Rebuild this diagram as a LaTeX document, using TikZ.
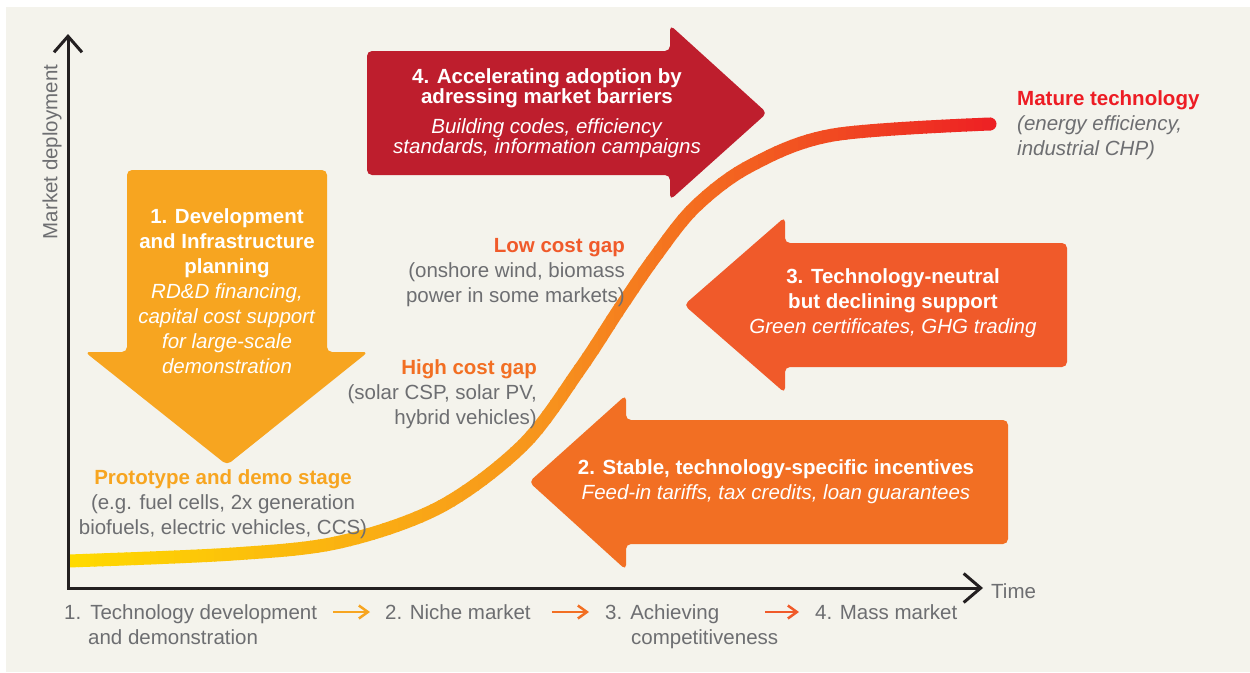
\documentclass[tikz,border=0pt]{standalone}
\usepackage{fontspec}
\setmainfont{Liberation Sans}
\usepackage{xcolor}
\usepackage{tikz}
\usetikzlibrary{arrows.meta, positioning}

\definecolor{panelbg}{HTML}{F4F3EC}
\definecolor{axisblack}{HTML}{231F20}
\definecolor{textgray}{HTML}{6D6E71}
\definecolor{amber}{HTML}{F7A520}
\definecolor{deepred}{HTML}{BE1E2D}
\definecolor{redorange}{HTML}{F05A2A}
\definecolor{darkorange}{HTML}{F26F23}
\definecolor{maturered}{HTML}{ED1C24}
\definecolor{curveyellow}{HTML}{FFDA00}
\definecolor{curveorange}{HTML}{F7941D}
\definecolor{curvered}{HTML}{ED1C24}

\tikzset{
    axisline/.style={line width=3pt, draw=axisblack, line join=miter, {Straight Barb[length=16pt,width=28pt]}-{Straight Barb[length=17pt,width=29pt]}},
    policyarrow/.style={rounded corners=5pt},
    arrowtext/.style={text=white, align=center, inner sep=0pt, font=\fontsize{20.5}{25}\selectfont},
    gaplabel/.style={text=textgray, inner sep=0pt, font=\fontsize{20.5}{25}\selectfont},
    stagetext/.style={text=textgray, inner sep=0pt, text height=15pt, text depth=0pt, font=\fontsize{20.5}{25}\selectfont},
    stagearrow/.style={line width=2.5pt, -{Straight Barb[length=9pt,width=13pt]}},
    sgrowth/.style={line width=13pt, line cap=round}
}

\begin{document}
\begin{tikzpicture}[x=1pt, y=-1pt]
    \useasboundingbox (0,0) rectangle (1250,672);
    \fill[white] (0,0) rectangle (1250,672);
    \fill[panelbg] (6,7) rectangle (1250,672);

    % axes
    \coordinate (origin) at (68,588);
    \coordinate (ytop) at (68,34);
    \coordinate (xend) at (983,588);
    \draw[axisline] (ytop) -- (origin) -- (xend);
    \node[gaplabel, rotate=90] (ylabel) at (52,152) {Market deployment};
    \node[gaplabel, anchor=west] (xlabel) at (991,591) {Time};

    % policy arrows
    \fill[deepred, policyarrow] (367,51) -- (670,51) -- (670,25) -- (767,113) -- (670,200) -- (670,175) -- (367,175) -- cycle;
    \fill[amber, policyarrow] (127,170) -- (327,170) -- (327,352) -- (368,352) -- (227,465) -- (85,352) -- (127,352) -- cycle;
    \fill[redorange, policyarrow] (1067,243) -- (785,243) -- (785,217) -- (684,305) -- (785,393) -- (785,367) -- (1067,367) -- cycle;
    \fill[darkorange, policyarrow] (1008,420) -- (626,420) -- (626,395) -- (529,482) -- (626,570) -- (626,544) -- (1008,544) -- cycle;

    \node[arrowtext, font=\fontsize{20.5}{20}\selectfont] (barriers) at (547,113) {\textbf{4. Accelerating adoption by}\\\textbf{adressing market barriers}\\[10pt]\textit{Building codes, efficiency}\\\textit{standards, information campaigns}};
    \node[arrowtext] (development) at (227,291) {\textbf{1. Development}\\\textbf{and Infrastructure}\\\textbf{planning}\\\textit{RD\&D financing,}\\\textit{capital cost support}\\\textit{for large-scale}\\\textit{demonstration}};
    \node[arrowtext] (neutral) at (893,303) {\textbf{3. Technology-neutral}\\\textbf{but declining support}\\\textit{Green certificates, GHG trading}};
    \node[arrowtext] (incentives) at (776,482) {\textbf{2. Stable, technology-specific incentives}\\\textit{Feed-in tariffs, tax credits, loan guarantees}};

    % s-curve, coloured strip by strip
    \path[save path=\growthpath] plot[smooth, tension=0.55] coordinates {(68,561) (233,554) (340,542) (440,507) (523,445) (580,369) (620,308) (655,257) (695,207) (750,166) (833,135) (990,124)};
    \foreach \i in {0,...,117} {
        \pgfmathsetmacro\stripx{70+8*\i}
        \pgfmathsetmacro\curvepos{\i/117}
        \ifdim\curvepos pt<0.5pt
            \pgfmathsetmacro\curvemix{200*\curvepos}\colorlet{curvecol}{curveorange!\curvemix!curveyellow}
        \else
            \pgfmathsetmacro\curvemix{200*\curvepos-100}\colorlet{curvecol}{curvered!\curvemix!curveorange}
        \fi
        \begin{scope}
            \clip (\stripx,0) rectangle (\stripx+9,672);
            \draw[sgrowth, curvecol, use path=\growthpath];
        \end{scope}
    }

    % technology labels
    \node[gaplabel, anchor=west, align=left] (mature) at (1017,125.5) {\textcolor{maturered}{\textbf{Mature technology}}\\\textit{(energy efficiency,}\\\textit{industrial CHP)}};
    \node[gaplabel, anchor=east, align=right] (lowgap) at (625,273) {\textcolor{redorange}{\textbf{Low cost gap}}\\(onshore wind, biomass\\power in some markets)};
    \node[gaplabel, anchor=east, align=right] (highgap) at (537,394) {\textcolor{darkorange}{\textbf{High cost gap}}\\(solar CSP, solar PV,\\hybrid vehicles)};
    \node[gaplabel, align=center] (prototype) at (223,504) {\textcolor{amber}{\textbf{Prototype and demo stage}}\\(e.g. fuel cells, 2x generation\\biofuels, electric vehicles, CCS)};

    % market stages
    \node[stagetext, anchor=base west] (stageA) at (64,619.5) {1.\hspace{9pt}Technology development};
    \node[stagetext, anchor=base west] (stageAsub) at (88,644.5) {and demonstration};
    \node[stagetext, anchor=base west] (stageB) at (385,619.5) {2. Niche market};
    \node[stagetext, anchor=base west] (stageC) at (605,619.5) {3.\hspace{8pt}Achieving};
    \node[stagetext, anchor=base west] (stageCsub) at (631,644.5) {competitiveness};
    \node[stagetext, anchor=base west] (stageD) at (815,619.5) {4. Mass market};

    \draw[stagearrow, amber, shorten <=16pt, shorten >=15pt] (stageA) -- (stageB);
    \draw[stagearrow, darkorange, shorten <=21pt, shorten >=16pt] (stageB) -- (stageC);
    \draw[stagearrow, redorange, shorten <=46pt, shorten >=16pt] (stageC) -- (stageD);
\end{tikzpicture}
\end{document}
